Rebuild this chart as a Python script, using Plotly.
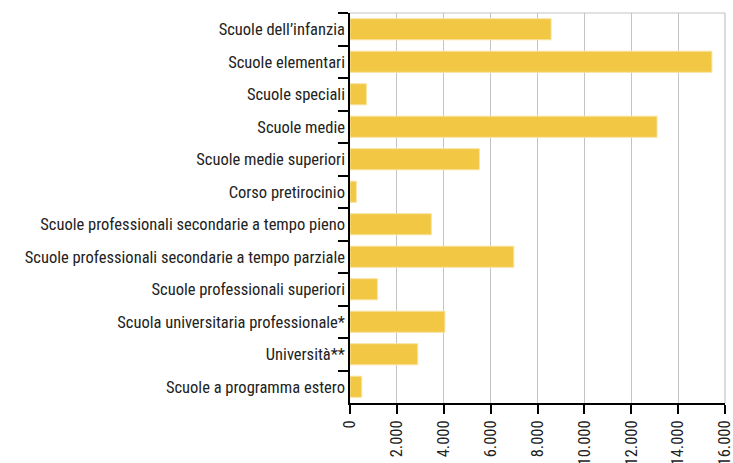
import plotly.graph_objects as go

categories = [
    "Scuole dell’infanzia",
    "Scuole elementari",
    "Scuole speciali",
    "Scuole medie",
    "Scuole medie superiori",
    "Corso pretirocinio",
    "Scuole professionali secondarie a tempo pieno",
    "Scuole professionali secondarie a tempo parziale",
    "Scuole professionali superiori",
    "Scuola universitaria professionale*",
    "Università**",
    "Scuole a programma estero",
]
values = [8580, 15440, 700, 13100, 5520, 270, 3470, 6990, 1170, 4050, 2890, 500]
tick_vals = [0, 2000, 4000, 6000, 8000, 10000, 12000, 14000, 16000]

FONT = "Roboto Condensed, sans-serif"
FS = 16.5

fig = go.Figure(go.Bar(
    x=values,
    y=categories,
    orientation="h",
    marker=dict(color="#F2C744", line=dict(color="#F8E3A0", width=1)),
    width=0.65,
))

fig.update_layout(
    width=733, height=463,
    margin=dict(l=350, r=8, t=13, b=60),
    paper_bgcolor="white", plot_bgcolor="white",
    separators=",.",
    showlegend=False,
    font=dict(family=FONT, size=FS, color="#222"),
)
fig.update_yaxes(
    autorange="reversed",
    showline=True, linecolor="black", linewidth=1.5,
    ticks="outside", tickson="boundaries", ticklen=10, tickcolor="black", tickwidth=1.5,
    showgrid=False, automargin=False,
    tickfont=dict(family=FONT, size=FS, color="#222"),
)
fig.update_xaxes(
    range=[0, 16000], tickvals=tick_vals, tickformat=",d",
    tickangle=-90, ticklabeloverflow="allow",
    showline=True, linecolor="black", linewidth=1.5,
    ticks="outside", ticklen=9, tickcolor="black", tickwidth=1.5,
    showgrid=True, gridcolor="#C4C4C4", gridwidth=1.2,
    zeroline=False, automargin=False,
    tickfont=dict(family=FONT, size=FS, color="#222"),
)
fig.add_shape(type="line", xref="paper", yref="paper", x0=0, x1=1, y0=1, y1=1,
              line=dict(color="#C4C4C4", width=1.2))
fig.add_shape(type="line", xref="paper", yref="paper", x0=1, x1=1, y0=0, y1=1,
              line=dict(color="#C4C4C4", width=1.2))
fig.write_html(
    "out.html",
    config={"displayModeBar": False},
    post_script="document.documentElement.style.overflow='hidden';"
                "document.body.style.margin='0';document.body.style.overflow='hidden';",
)
